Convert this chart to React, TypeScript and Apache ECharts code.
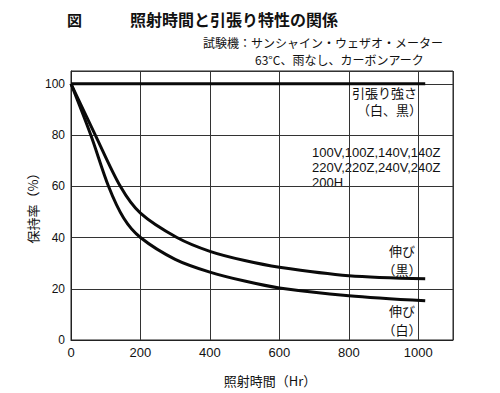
import React, { useEffect, useRef } from "react";
import * as echarts from "echarts";

const xTickLabels = ["0", "200", "400", "600", "800", "1000"];
const yTickLabels = ["0", "20", "40", "60", "80", "100"];

const tensileHours = [0, 1020];
const tensileValues = [100, 100];

const blackHours = [0, 70, 142, 200, 305, 400, 500, 600, 800, 1020];
const blackValues = [100, 80, 60, 49.5, 40, 34.6, 31, 28.4, 25.1, 23.9];

const whiteHours = [0, 57, 108, 152, 200, 300, 400, 500, 600, 800, 1020];
const whiteValues = [100, 80, 60, 47.5, 40, 31.5, 26.5, 23, 20.3, 17.3, 15.3];

const FONT = "'Noto Sans CJK JP', 'Liberation Sans', sans-serif";
const LAT = "'Liberation Sans', sans-serif";
const INK = "#111";

function pairs(xs: number[], ys: number[]) {
  return xs.map((x, i) => [x, ys[i]]);
}

export default function App() {
  const ref = useRef<HTMLDivElement>(null);
  useEffect(() => {
    if (!ref.current) return;
    const chart = echarts.init(ref.current, undefined, { renderer: "svg" });
    const lineStyle = { color: "#0a0a0a", width: 3 };
    const t = (left: number, top: number, text: string, font: string) => ({
      type: "text",
      left,
      top,
      style: { text, font, fill: INK },
    });
    const c = (x: number, y: number, text: string) => ({
      type: "text",
      x,
      y,
      style: { text, font: `13px ${FONT}`, fill: INK, align: "center", verticalAlign: "middle" },
    });
    chart.setOption({
      animation: false,
      backgroundColor: "#fff",
      grid: { left: 71, top: 71, right: 47, bottom: 53, show: true, borderColor: "#222", borderWidth: 1 },
      xAxis: {
        type: "value",
        min: 0,
        max: 1100,
        interval: 200,
        axisLine: { show: true, lineStyle: { color: "#222", width: 1 } },
        axisTick: { show: false },
        splitLine: { show: true, lineStyle: { color: "#333", width: 1 } },
        axisLabel: {
          showMaxLabel: false,
          margin: 6,
          fontSize: 13,
          color: INK,
          fontFamily: LAT,
          formatter: (v: number) => (xTickLabels.includes(String(v)) ? String(v) : ""),
        },
      },
      yAxis: {
        type: "value",
        min: 0,
        max: 105,
        interval: 20,
        axisLine: { show: true, lineStyle: { color: "#222", width: 1 } },
        axisTick: { show: false },
        splitLine: { show: true, lineStyle: { color: "#333", width: 1 } },
        axisLabel: {
          showMaxLabel: false,
          margin: 6,
          fontSize: 12,
          color: INK,
          fontFamily: LAT,
          formatter: (v: number) => (yTickLabels.includes(String(v)) ? String(v) : ""),
        },
      },
      series: [
        { type: "line", data: pairs(tensileHours, tensileValues), showSymbol: false, lineStyle, z: 5 },
        { type: "line", data: pairs(blackHours, blackValues), smooth: 0.3, showSymbol: false, lineStyle, z: 5 },
        { type: "line", data: pairs(whiteHours, whiteValues), smooth: 0.3, showSymbol: false, lineStyle, z: 5 },
      ],
      graphic: [
        t(67, 12, "図", `bold 15px ${FONT}`),
        t(130, 11, "照射時間と引張り特性の関係", `bold 16px ${FONT}`),
        t(203, 36, "試験機：サンシャイン・ウェザオ・メーター", `12px ${FONT}`),
        t(255, 53, "63°C、雨なし、カーボンアーク", `12px ${FONT}`),
        t(352, 86, "引張り強さ", `13px ${FONT}`),
        t(357, 103, "（白、黒）", `13px ${FONT}`),
        t(312, 146, "100V,100Z,140V,140Z", `13px ${LAT}`),
        t(312, 161, "220V,220Z,240V,240Z", `13px ${LAT}`),
        t(312, 176, "200H", `13px ${LAT}`),
        c(402, 250, "伸び"),
        c(402, 269, "（黒）"),
        c(402, 310, "伸び"),
        c(402, 329, "（白）"),
        { type: "text", x: 32, y: 205, rotation: Math.PI / 2, style: { text: "保持率（%）", font: `13px ${FONT}`, fill: INK, align: "center", verticalAlign: "middle" } },
        { type: "text", x: 270, y: 380, style: { text: "照射時間（Hr）", font: `13px ${FONT}`, fill: INK, align: "center", verticalAlign: "middle" } },
      ],
    });
    return () => chart.dispose();
  }, []);
  return <div ref={ref} style={{ width: 500, height: 393, position: "absolute", left: 0, top: 0 }} />;
}
